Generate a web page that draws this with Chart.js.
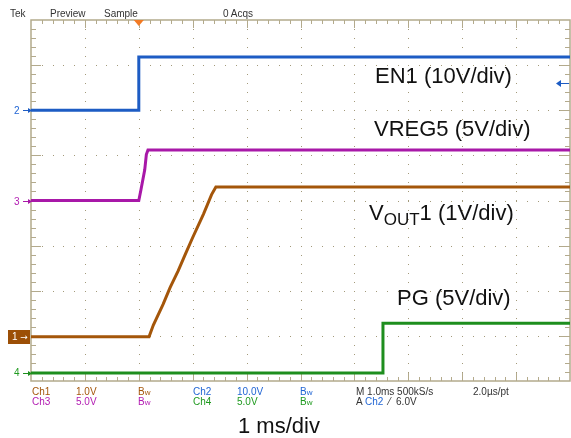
<!DOCTYPE html>
<html>
<head>
<meta charset="utf-8">
<script src="https://cdn.jsdelivr.net/npm/chart.js@4.4.1/dist/chart.umd.min.js"></script>
<style>
    body { margin: 0; background: #fff; }
    #wrap { position: relative; width: 571px; height: 438px; background: #fff; font-family: 'Liberation Sans', Arial, sans-serif; }
    #scope { position: absolute; left: 0; top: 0; }
    .t { position: absolute; white-space: nowrap; line-height: 1; }
    .ro { font-size: 10px; line-height: 10px; }
    .big { font-size: 22px; line-height: 22px; color: #111; }
    .bw { font-size: 8px; }
    .c1 { color: #a4560a; }
    .c2 { color: #2266d4; }
    .c3 { color: #b21cb2; }
    .c4 { color: #1f9a1f; }
    .dk { color: #333; }
</style>
</head>
<body>
<div id="wrap">
    <canvas id="scope" width="571" height="438"></canvas>

    <!-- status line -->
    <div class="t ro dk" style="left:10px;top:9px">Tek</div>
    <div class="t ro dk" style="left:50px;top:9px">Preview</div>
    <div class="t ro dk" style="left:104px;top:9px">Sample</div>
    <div class="t ro dk" style="left:223px;top:9px">0 Acqs</div>

    <!-- channel ground markers -->
    <div class="t" style="left:8px;top:330px;width:22px;height:14px;background:#9c4f06"></div>
    <div class="t ro" style="left:12px;top:332px;color:#fff">1 <span style="font-family:'DejaVu Sans';font-size:9px">→</span></div>
    <div class="t ro c2" style="left:14px;top:106px">2</div>
    <div class="t ro c3" style="left:14px;top:197px">3</div>
    <div class="t ro c4" style="left:14px;top:368px">4</div>

    <!-- trace labels -->
    <div class="t big" style="left:375px;top:65px">EN1 (10V/div)</div>
    <div class="t big" style="left:374px;top:118px">VREG5 (5V/div)</div>
    <div class="t big" style="left:369px;top:202px">V<span style="font-size:17px;position:relative;top:5px">OUT</span>1 (1V/div)</div>
    <div class="t big" style="left:397px;top:287px">PG (5V/div)</div>

    <!-- readout -->
    <div class="t ro c1" style="left:32px;top:387px">Ch1</div>
    <div class="t ro c1" style="left:76px;top:387px">1.0V</div>
    <div class="t ro c1" style="left:138px;top:387px">B<span class="bw">w</span></div>
    <div class="t ro c2" style="left:193px;top:387px">Ch2</div>
    <div class="t ro c2" style="left:237px;top:387px">10.0V</div>
    <div class="t ro c2" style="left:300px;top:387px">B<span class="bw">w</span></div>
    <div class="t ro dk" style="left:356px;top:387px">M 1.0ms 500kS/s</div>
    <div class="t ro dk" style="left:473px;top:387px">2.0µs/pt</div>

    <div class="t ro c3" style="left:32px;top:397px">Ch3</div>
    <div class="t ro c3" style="left:76px;top:397px">5.0V</div>
    <div class="t ro c3" style="left:138px;top:397px">B<span class="bw">w</span></div>
    <div class="t ro c4" style="left:193px;top:397px">Ch4</div>
    <div class="t ro c4" style="left:237px;top:397px">5.0V</div>
    <div class="t ro c4" style="left:300px;top:397px">B<span class="bw">w</span></div>
    <div class="t ro dk" style="left:356px;top:397px">A <span class="c2">Ch2</span> &nbsp;⁄ &nbsp;6.0V</div>

    <div class="t big" style="left:238px;top:415px">1 ms/div</div>
</div>

<script>
// time axis in ms, relative to the trigger; 10 divisions at 1 ms/div
const timeMin = -2;
const timeMax = 8;
const vertDivs = 8;

// EN1 (Ch2, 10 V/div)
const en1Time = [-2, 0, 0, 8];
const en1Volts = [0, 0, 11.8, 11.8];

// VREG5 (Ch3, 5 V/div)
const vregTime = [-2, 0, 0.04, 0.11, 0.14, 0.17, 8];
const vregVolts = [0, 0, 1.2, 3.4, 5.1, 5.6, 5.6];

// VOUT1 (Ch1, 1 V/div) soft-start ramp
const voutTime = [-2, 0.19, 0.27, 0.45, 0.58, 0.73, 0.86, 1.0, 1.2, 1.35, 1.43, 8];
const voutVolts = [0, 0, 0.26, 0.72, 1.09, 1.46, 1.82, 2.2, 2.72, 3.15, 3.32, 3.32];

// PG (Ch4, 5 V/div)
const pgTime = [-2, 4.53, 4.53, 8];
const pgVolts = [0, 0, 5.5, 5.5];

// volts per division and ground position (divisions from bottom)
const voltsPerDiv = { ch1: 1, ch2: 10, ch3: 5, ch4: 5 };
const groundDiv = { ch1: 0.98, ch2: 6.0, ch3: 4.0, ch4: 0.18 };
const triggerLevel = 6.0; // V on Ch2

const colors = {
    ch1: '#a4560a',
    ch2: '#1d5cc4',
    ch3: '#a818a8',
    ch4: '#1e8e1e'
};

function toDivs(times, volts, ch) {
    return times.map((t, i) => ({ x: t, y: groundDiv[ch] + volts[i] / voltsPerDiv[ch] }));
}

function trace(times, volts, ch) {
    return {
        data: toDivs(times, volts, ch),
        borderColor: colors[ch],
        borderWidth: 3,
        pointRadius: 0,
        tension: 0,
        fill: false
    };
}

// scope graticule: frame with ticks and dotted grid
const graticule = {
    id: 'graticule',
    beforeDatasetsDraw(chart) {
        const ctx = chart.ctx;
        const xs = chart.scales.x;
        const ys = chart.scales.y;
        const { left, right, top, bottom } = chart.chartArea;
        ctx.save();

        // dots on the major lines
        ctx.fillStyle = '#a39a7a';
        for (let t = timeMin + 1; t < timeMax; t++) {
            const px = Math.round(xs.getPixelForValue(t));
            for (let d = 0.2; d < vertDivs; d += 0.2) {
                ctx.fillRect(px, Math.round(ys.getPixelForValue(d)), 1, 1);
            }
        }
        for (let d = 1; d < vertDivs; d++) {
            const py = Math.round(ys.getPixelForValue(d));
            for (let t = timeMin + 0.2; t < timeMax; t += 0.2) {
                ctx.fillRect(Math.round(xs.getPixelForValue(t)), py, 1, 1);
            }
        }

        // frame
        ctx.strokeStyle = '#b3aa8c';
        ctx.lineWidth = 1.5;
        ctx.strokeRect(left, top, right - left, bottom - top);

        // edge ticks
        ctx.lineWidth = 1;
        ctx.beginPath();
        for (let k = 1; k < (timeMax - timeMin) * 5; k++) {
            const px = Math.round(xs.getPixelForValue(timeMin + k / 5)) + 0.5;
            const len = k % 5 === 0 ? 8 : 4;
            ctx.moveTo(px, top); ctx.lineTo(px, top + len);
            ctx.moveTo(px, bottom); ctx.lineTo(px, bottom - len);
        }
        for (let k = 1; k < vertDivs * 5; k++) {
            const py = Math.round(ys.getPixelForValue(k / 5)) + 0.5;
            const len = k % 5 === 0 ? 10 : 5;
            ctx.moveTo(left, py); ctx.lineTo(left + len, py);
            ctx.moveTo(right, py); ctx.lineTo(right - len, py);
        }
        ctx.stroke();

        // trigger position marker
        const tx = xs.getPixelForValue(0);
        ctx.fillStyle = '#f27a24';
        ctx.beginPath();
        ctx.moveTo(tx - 5, top);
        ctx.lineTo(tx + 5, top);
        ctx.lineTo(tx, top + 6);
        ctx.closePath();
        ctx.fill();

        // ground arrows on the left
        const arrow = (y, x0, x1, color) => {
            ctx.strokeStyle = color;
            ctx.fillStyle = color;
            ctx.lineWidth = 1;
            ctx.beginPath();
            ctx.moveTo(x0, y + 0.5); ctx.lineTo(x1 - 3, y + 0.5);
            ctx.stroke();
            ctx.beginPath();
            ctx.moveTo(x1, y + 0.5);
            ctx.lineTo(x1 - 4, y - 2);
            ctx.lineTo(x1 - 4, y + 3);
            ctx.closePath();
            ctx.fill();
        };
        arrow(Math.round(ys.getPixelForValue(groundDiv.ch2)), 23, 32, colors.ch2);
        arrow(Math.round(ys.getPixelForValue(groundDiv.ch3)), 23, 32, colors.ch3);
        arrow(Math.round(ys.getPixelForValue(groundDiv.ch4)), 23, 32, colors.ch4);

        // trigger level marker on the right edge
        const ty = Math.round(ys.getPixelForValue(groundDiv.ch2 + triggerLevel / voltsPerDiv.ch2));
        ctx.strokeStyle = colors.ch2;
        ctx.fillStyle = colors.ch2;
        ctx.beginPath();
        ctx.moveTo(right - 12, ty + 0.5); ctx.lineTo(right - 1, ty + 0.5);
        ctx.stroke();
        ctx.beginPath();
        ctx.moveTo(right - 14, ty + 0.5);
        ctx.lineTo(right - 9, ty - 3);
        ctx.lineTo(right - 9, ty + 4);
        ctx.closePath();
        ctx.fill();

        ctx.restore();
    }
};

new Chart(document.getElementById('scope').getContext('2d'), {
    type: 'line',
    data: {
        datasets: [
            trace(pgTime, pgVolts, 'ch4'),
            trace(voutTime, voutVolts, 'ch1'),
            trace(vregTime, vregVolts, 'ch3'),
            trace(en1Time, en1Volts, 'ch2')
        ]
    },
    options: {
        responsive: false,
        animation: false,
        devicePixelRatio: 1,
        layout: { padding: { left: 31, top: 20, right: 1, bottom: 57 } },
        plugins: {
            legend: { display: false },
            tooltip: { enabled: false }
        },
        scales: {
            x: { type: 'linear', min: timeMin, max: timeMax, display: false },
            y: { type: 'linear', min: 0, max: vertDivs, display: false }
        }
    },
    plugins: [graticule]
});
</script>
</body>
</html>
